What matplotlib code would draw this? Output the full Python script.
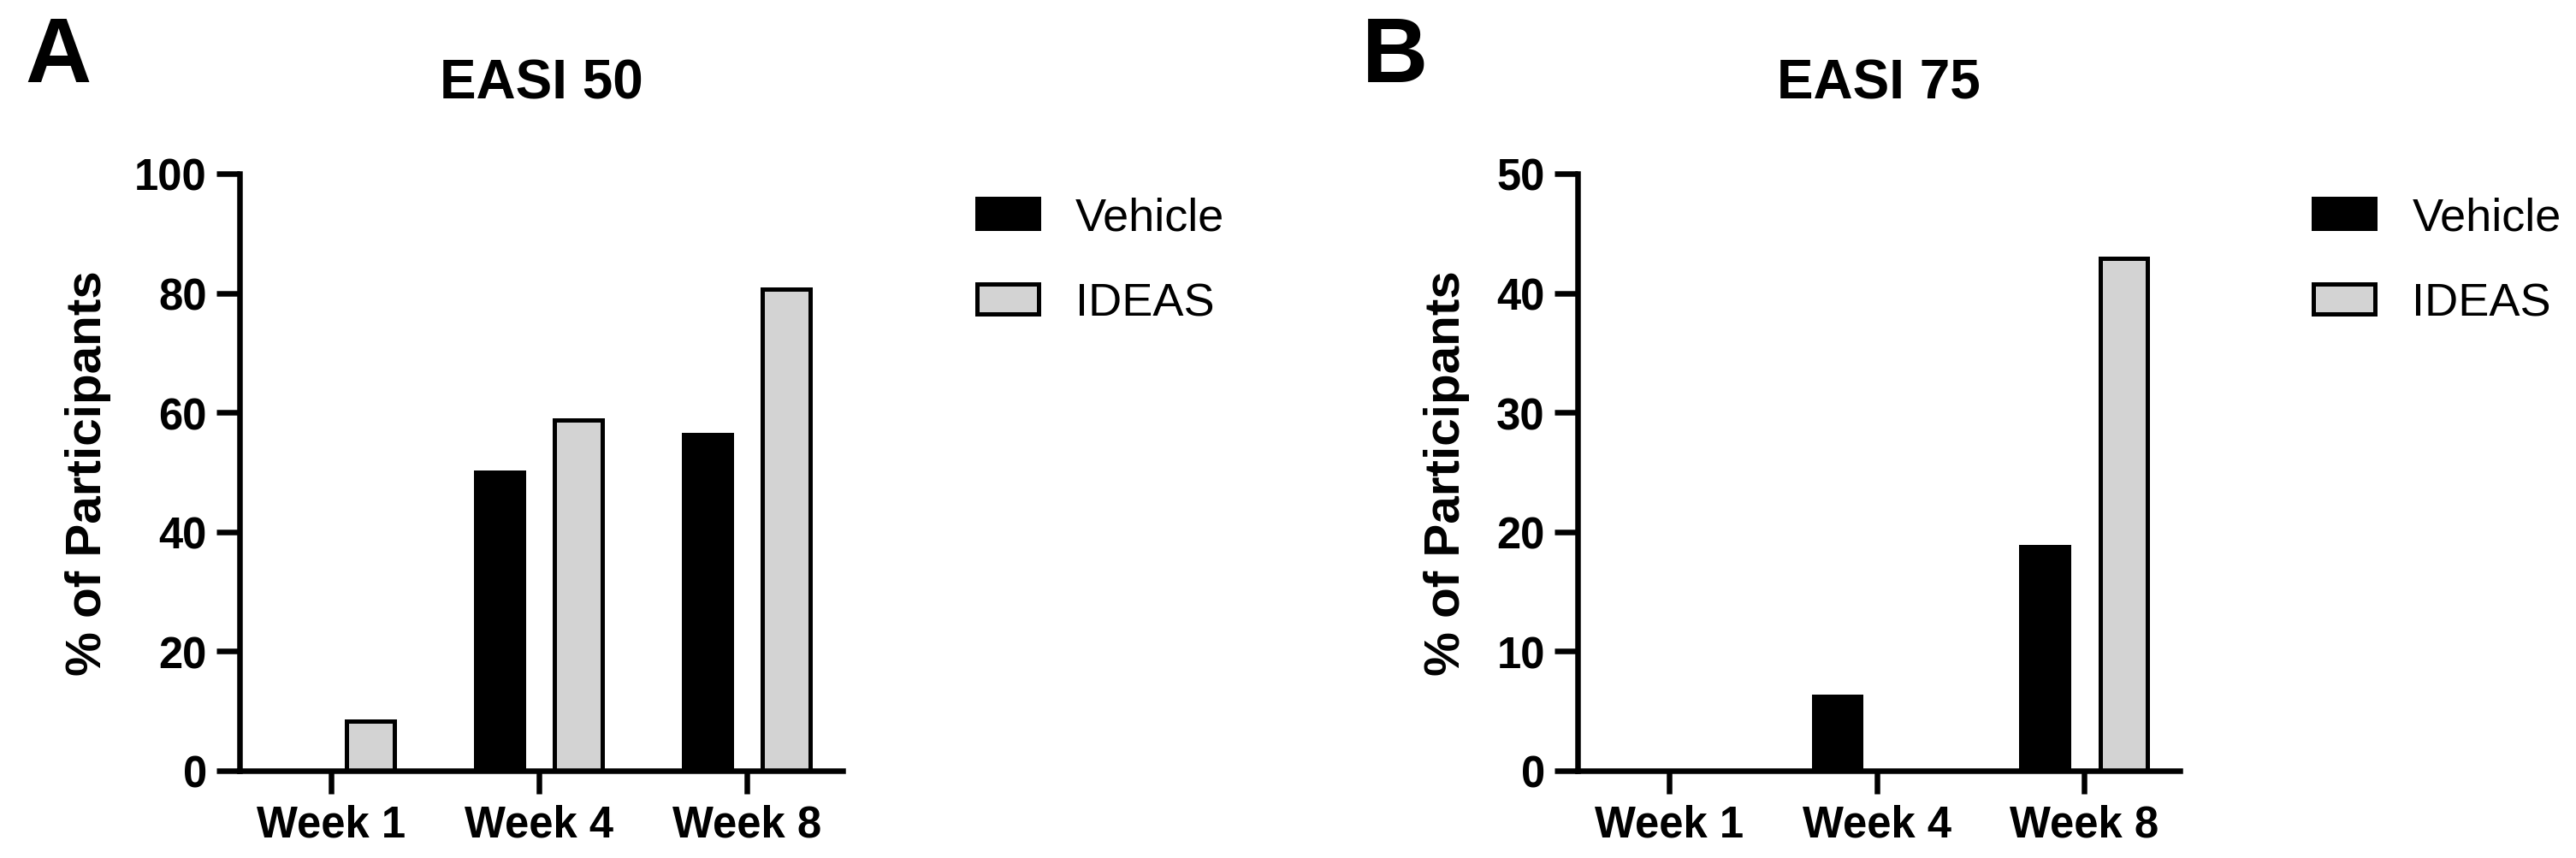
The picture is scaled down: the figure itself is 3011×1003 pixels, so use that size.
import matplotlib
matplotlib.use("Agg")
import matplotlib.pyplot as plt
from matplotlib import font_manager
from matplotlib.patches import Patch
import numpy as np

# ---------------- data ----------------
weeks = ["Week 1", "Week 4", "Week 8"]
easi50_vehicle = [0.0, 50.0, 56.25]
easi50_ideas = [8.3, 58.7, 80.7]
easi75_vehicle = [0.0, 6.25, 18.75]
easi75_ideas = [0.0, 0.0, 42.9]
panel_titles = ["EASI 50", "EASI 75"]
panel_letters = ["A", "B"]
series_names = ["Vehicle", "IDEAS"]
y_max = [100, 50]
y_ticks = [[0, 20, 40, 60, 80, 100], [0, 10, 20, 30, 40, 50]]
ylabel = "% of Participants"

# ---------------- fonts ----------------
def pick(fams):
    for f in fams:
        try:
            font_manager.findfont(font_manager.FontProperties(family=f), fallback_to_default=False)
            return f
        except Exception:
            pass
    return "DejaVu Sans"

SANS = pick(["Liberation Sans", "Arial", "DejaVu Sans"])

W, H = 3011, 1004
DPI = 100
fig = plt.figure(figsize=(W / DPI, H / DPI), dpi=DPI)

px = 72.0 / DPI  # points per pixel
spine_lw = 6.5 * px
edge_lw = 5 * px
tick_len = 27 * px

VEH_COLOR = "black"
IDEAS_COLOR = "#d3d3d3"

axes_px = [(280, 985), (1844, 2548)]
ylabel_right_px = [130, 1718]
top_px, bot_px = 204, 902
data = [(easi50_vehicle, easi50_ideas), (easi75_vehicle, easi75_ideas)]

x = np.arange(len(weeks))
bw = 0.23
off = 0.19

LEG_FS = 39
leg_em = LEG_FS / px

for i, ((l, r), (veh, ide)) in enumerate(zip(axes_px, data)):
    ax = fig.add_axes([l / W, 1 - bot_px / H, (r - l) / W, (bot_px - top_px) / H])
    ax.bar(x - off, veh, bw, color=VEH_COLOR, edgecolor="black", linewidth=edge_lw, label=series_names[0])
    ax.bar(x + off, ide, bw, color=IDEAS_COLOR, edgecolor="black", linewidth=edge_lw, label=series_names[1])
    ax.set_xlim(-0.44, 2.46)
    ax.set_ylim(0, y_max[i])
    ax.set_yticks(y_ticks[i])
    ax.set_xticks(x)
    ax.set_xticklabels(weeks)
    for s in ["top", "right"]:
        ax.spines[s].set_visible(False)
    for s in ["left", "bottom"]:
        ax.spines[s].set_linewidth(spine_lw)
        ax.spines[s].set_capstyle("projecting")
    ax.tick_params(axis="both", direction="out", length=tick_len, width=spine_lw, color="black")
    ax.tick_params(axis="y", pad=8)
    ax.tick_params(axis="x", pad=8)
    for lab in ax.get_yticklabels() + ax.get_xticklabels():
        lab.set_fontfamily(SANS)
        lab.set_fontweight("bold")
        lab.set_fontsize(36.5)
    ax.set_ylabel(ylabel, fontfamily=SANS, fontweight="bold", fontsize=42)
    ax.yaxis.set_label_coords((ylabel_right_px[i] - l) / (r - l), 0.5)
    ax.patch.set_alpha(0)

    handles = [Patch(facecolor=VEH_COLOR, edgecolor="black", linewidth=edge_lw),
               Patch(facecolor=IDEAS_COLOR, edgecolor="black", linewidth=edge_lw)]
    ax.legend(handles, series_names, loc="upper left", bbox_to_anchor=(1.222, 0.962),
              frameon=False, borderpad=0, borderaxespad=0,
              prop={"family": SANS, "size": LEG_FS},
              handlelength=72 / leg_em, handleheight=34 / leg_em,
              handletextpad=43 / leg_em, labelspacing=0.92)

    cx = (l + r) / 2
    fig.text(cx / W, 1 - 115 / H, panel_titles[i], ha="center", va="baseline",
             fontfamily=SANS, fontweight="bold", fontsize=46)

fig.text(29 / W, 1 - 96 / H, panel_letters[0], ha="left", va="baseline",
         fontfamily=SANS, fontweight="bold", fontsize=77)
fig.text(1592 / W, 1 - 96 / H, panel_letters[1], ha="left", va="baseline",
         fontfamily=SANS, fontweight="bold", fontsize=77)

fig.savefig("out.png", dpi=DPI, facecolor="white")
